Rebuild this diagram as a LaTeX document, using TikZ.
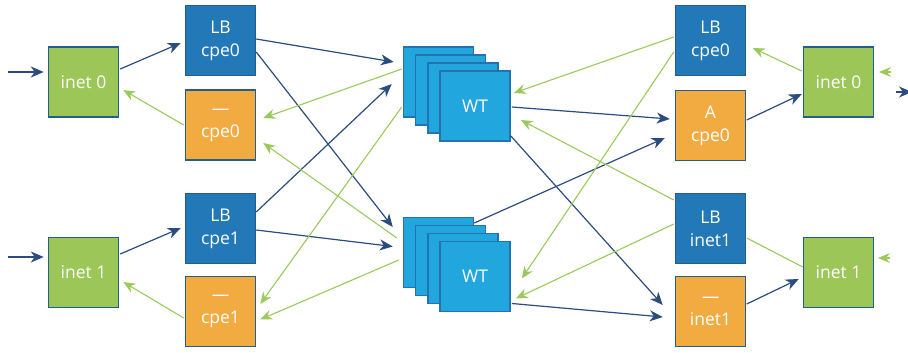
\documentclass[tikz,border=0pt]{standalone}
\usepackage{fontspec}
\setmainfont{Open Sans}
\usetikzlibrary{arrows.meta,calc}

\definecolor{lineblue}{HTML}{2B4C7E}
\definecolor{linegreen}{HTML}{9BC95B}
\definecolor{lbblue}{HTML}{2379B8}
\definecolor{boxorange}{HTML}{F2AB40}
\definecolor{inetgreen}{HTML}{9CC658}
\definecolor{wtblue}{HTML}{21A6DD}
\definecolor{edgeblue}{HTML}{245E8E}
\definecolor{wtedge}{HTML}{2472B2}

\tikzset{
  box/.style={draw=edgeblue, line width=1.5pt, minimum width=70pt, minimum height=70pt,
    inner sep=0pt, align=center, text=white, font=\fontsize{17.5}{23}\selectfont},
  lbbox/.style={box, fill=lbblue},
  ordbox/.style={box, fill=boxorange},
  inetbox/.style={box, fill=inetgreen},
  wtbox/.style={box, fill=wtblue, draw=wtedge},
  fwdline/.style={draw=lineblue, line width=1.2pt, -{Stealth[length=13pt,width=11pt,inset=4pt]}},
  retline/.style={draw=linegreen, line width=1.1pt, -{Stealth[length=12pt,width=10pt,inset=4pt]}},
}

\begin{document}
\begin{tikzpicture}[x=1pt,y=-1pt]
    \useasboundingbox (0,0) rectangle (908,353);

    % === 左侧方块 ===
    \node[inetbox] (inet0L) at (83.5,82) {inet 0};
    \node[lbbox] (lbcpe0L) at (220.5,40.5) {LB\\cpe0};
    \node[ordbox] (ocpe0L) at (220.5,125) {—\\cpe0};
    \node[inetbox] (inet1L) at (83.5,272.5) {inet 1};
    \node[lbbox] (lbcpe1L) at (220.5,228.5) {LB\\cpe1};
    \node[ordbox] (ocpe1L) at (220.5,311.5) {—\\cpe1};

    % === 中间 WT 叠层（从后往前画） ===
    \foreach \i/\t in {0/,1/,2/,3/WT} {
        \node[wtbox] (wtA\i) at (438.5+12.2*\i,82+8*\i) {\t};
        \node[wtbox] (wtB\i) at (438.5+12.2*\i,252.5+8*\i) {\t};
    }

    % === 右侧方块 ===
    \node[lbbox] (lbcpe0R) at (710.5,40.5) {LB\\cpe0};
    \node[ordbox] (acpe0R) at (710.5,125.5) {A\\cpe0};
    \node[inetbox] (inet0R) at (838.5,82) {inet 0};
    \node[lbbox] (lbinet1R) at (710.5,228.5) {LB\\inet1};
    \node[ordbox] (oinet1R) at (710.5,311.5) {—\\inet1};
    \node[inetbox] (inet1R) at (838.5,272.5) {inet 1};

    % 外部的自由端点
    \coordinate (in0) at (8,72);
    \coordinate (in1) at (8,257);
    \coordinate (gin0) at (891,72);
    \coordinate (gin0tip) at (879,72);
    \coordinate (bout0) at (896,92);
    \coordinate (bout0tip) at (912,92);
    \coordinate (gin1) at (890,258);
    \coordinate (gin1tip) at (878,258);

    % === 左侧连线 ===
    \draw[fwdline] (in0) -- ($(inet0L.west)+(-4,-10)$);
    \draw[fwdline] ($(inet0L.east)+(1,-13)$) -- ($(lbcpe0L.west)+(-4,2.5)$);
    \draw[retline] ($(ocpe0L.west)+(-1,0)$) -- ($(inet0L.east)+(4,8)$);
    \draw[fwdline] (in1) -- ($(inet1L.west)+(-4,-15.5)$);
    \draw[fwdline] ($(inet1L.east)+(1,-18.5)$) -- ($(lbcpe1L.west)+(-4,-0.5)$);
    \draw[retline] ($(ocpe1L.west)+(-1,6.5)$) -- ($(inet1L.east)+(4,9.5)$);

    % === 左侧 <-> WT ===
    \draw[fwdline] ($(lbcpe0L.east)+(0,-1.5)$) -- ($(wtA0.west)+(-9,-20)$);
    \draw[fwdline] ($(lbcpe0L.east)+(0,11.5)$) -- ($(wtB0.west)+(-10,-25.5)$);
    \draw[fwdline] ($(lbcpe1L.east)+(0,-16.5)$) -- ($(wtA0.west)+(-11,2)$);
    \draw[fwdline] ($(lbcpe1L.east)+(0,1.5)$) -- ($(wtB0.west)+(-10,-6)$);
    \draw[retline] ($(wtA0.west)+(-1,-13)$) -- ($(ocpe0L.east)+(7,-7)$);
    \draw[retline] ($(wtB0.west)+(-6,-14.5)$) -- ($(ocpe0L.east)+(7,18)$);
    \draw[retline] ($(wtA0.west)+(-1,25)$) -- ($(ocpe1L.east)+(4,-7.5)$);
    \draw[retline] ($(wtB0.west)+(-4,7.5)$) -- ($(ocpe1L.east)+(4,8)$);

    % === WT <-> 右侧 ===
    \draw[fwdline] ($(wtA3.east)+(1,1)$) -- ($(acpe0R.west)+(-5,-6.5)$);
    \draw[fwdline] ($(wtA3.east)+(0,30)$) -- ($(oinet1R.west)+(-12,-6.5)$);
    \draw[fwdline] ($(wtB0.east)+(0,-29.5)$) -- ($(acpe0R.west)+(-10,12.5)$);
    \draw[fwdline] ($(wtB3.east)+(1,27)$) -- ($(oinet1R.west)+(-12,5.5)$);
    \draw[retline] ($(lbcpe0R.west)+(-1,-3.5)$) -- ($(wtA3.east)+(3,-13)$);
    \draw[retline] ($(lbcpe0R.west)+(-1,11.5)$) -- ($(wtB3.east)+(11,2)$);
    \draw[retline] ($(lbinet1R.west)+(-1,-28.5)$) -- ($(wtA3.east)+(10,14)$);
    \draw[retline] ($(lbinet1R.west)+(-1,-4.5)$) -- ($(wtB3.east)+(5,22)$);

    % === 右侧连线 ===
    \draw[fwdline] ($(acpe0R.east)+(0.5,-5.5)$) -- ($(inet0R.west)+(-1,12)$);
    \draw[retline] ($(inet0R.west)+(-1,-11)$) -- ($(lbcpe0R.east)+(6.5,7.5)$);
    \draw[fwdline] ($(oinet1R.east)+(0.5,-7.5)$) -- ($(inet1R.west)+(-4,6.5)$);
    \draw[draw=linegreen, line width=1.1pt] ($(inet1R.west)+(0,-5.5)$) -- ($(lbinet1R.east)+(0.5,9.5)$);

    % 右边缘的箭头
    \draw[retline] (gin0) -- (gin0tip);
    \draw[fwdline] (bout0) -- (bout0tip);
    \draw[retline] (gin1) -- (gin1tip);
\end{tikzpicture}
\end{document}
